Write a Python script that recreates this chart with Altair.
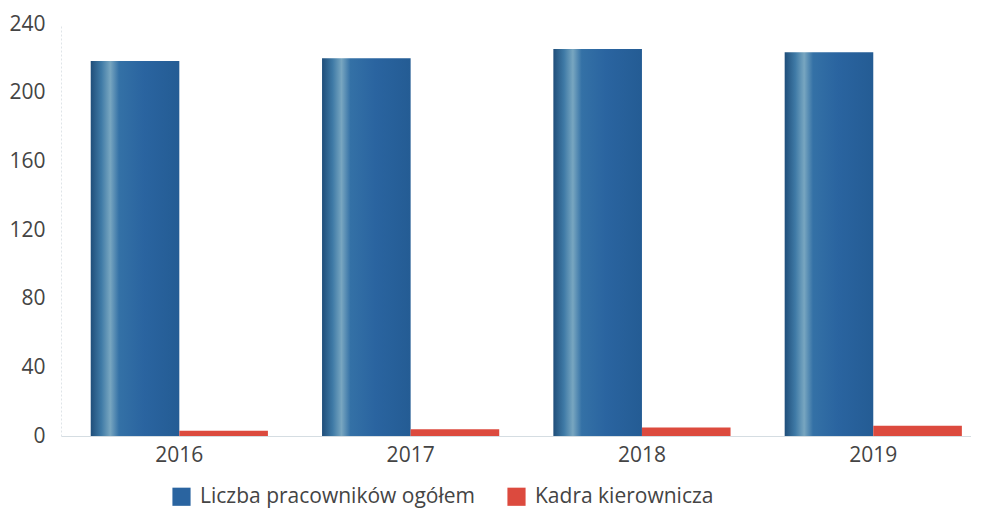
import altair as alt
import pandas as pd

years = ["2016", "2017", "2018", "2019"]
series = ["Liczba pracowników ogółem", "Kadra kierownicza"]
total = [218.5, 220, 225.5, 223.5]
managers = [3, 4, 5, 6]

rows = []
for i, y in enumerate(years):
    rows.append({"year": y, "series": series[0], "value": total[i]})
    rows.append({"year": y, "series": series[1], "value": managers[i]})
df = pd.DataFrame(rows)

font = "Open Sans"
grad = alt.Gradient(
    gradient="linear",
    stops=[
        alt.GradientStop(color="#1f4e7a", offset=0),
        alt.GradientStop(color="#3f7aa6", offset=0.12),
        alt.GradientStop(color="#78a6c0", offset=0.22),
        alt.GradientStop(color="#3471a6", offset=0.32),
        alt.GradientStop(color="#2a64a0", offset=0.6),
        alt.GradientStop(color="#245c94", offset=1),
    ],
    x1=0, x2=1, y1=0, y2=0,
)

x_enc = alt.X("year:N", sort=years, title=None,
              scale=alt.Scale(paddingInner=0.234, paddingOuter=0.084, align=0.765),
              axis=alt.Axis(labelAngle=0, labelFontSize=21, labelFont=font,
                            labelColor="#444444", ticks=False, labelPadding=8,
                            domainColor="#d5dde2", domainWidth=1))
xoff = alt.XOffset("series:N", sort=series, scale=alt.Scale(domain=series, paddingInner=0, paddingOuter=0))
y_enc = alt.Y("value:Q", title=None,
              scale=alt.Scale(domain=[0, 240]),
              axis=alt.Axis(values=[0, 40, 80, 120, 160, 200, 240], grid=False,
                            ticks=False, labelFontSize=21, labelFont=font,
                            labelColor="#444444", labelPadding=16,
                            domainColor="#dfe4e8", domainDash=[2, 2]))

base = alt.Chart(df)

blue = base.transform_filter(alt.datum.series == series[0]).mark_bar(fill=grad).encode(
    x=x_enc, xOffset=xoff, y=y_enc
)
red = base.transform_filter(alt.datum.series == series[1]).mark_bar().encode(
    x=x_enc, xOffset=xoff, y=y_enc,
    color=alt.Color("series:N",
                    scale=alt.Scale(domain=series, range=["#2a64a0", "#dc4a3e"]),
                    legend=alt.Legend(title=None, orient="none", direction="horizontal",
                                      legendX=110, legendY=462,
                                      symbolType="square", symbolSize=330,
                                      labelFontSize=21, labelFont=font,
                                      labelColor="#444444", columnPadding=31,
                                      labelOffset=8, labelLimit=400))
)

chart = alt.layer(blue, red).properties(
    width=910, height=412,
    padding={"left": 0, "top": 5, "right": 0, "bottom": 4},
    background="white",
).configure_view(stroke=None)

chart.save("out.html", embed_options={"renderer": "svg", "actions": False})
